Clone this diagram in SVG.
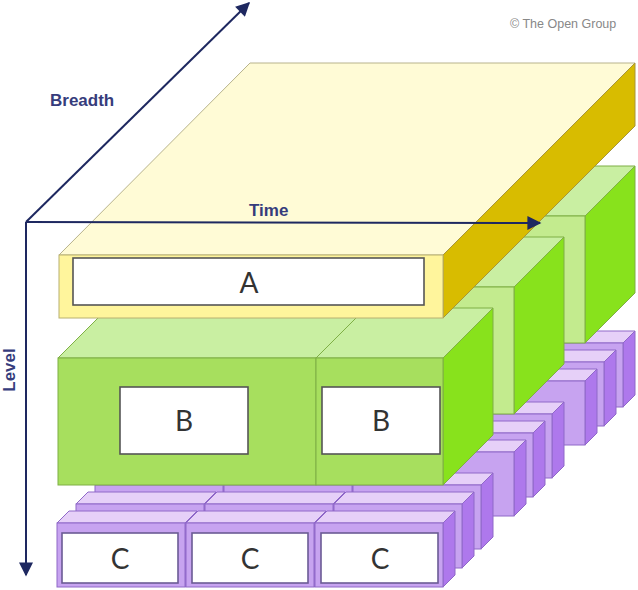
<svg xmlns="http://www.w3.org/2000/svg" width="638" height="590" viewBox="0 0 638 590">
<style>
.ct{fill:#E6D0F8;stroke:#8F68C8;stroke-width:1}
.cs{fill:#AE78EC;stroke:#8F68C8;stroke-width:1}
.cf{stroke:#8F68C8;stroke-width:1}
.bt{fill:#C9EFA2;stroke:#7FAF45;stroke-width:1}
.bs{fill:#88E21C;stroke:#7FAF45;stroke-width:1}
.bf{stroke:#7FAF45;stroke-width:1}
.wb{fill:#FFFFFF;stroke:#555555;stroke-width:1.6}
.wc{fill:#FFFFFF;stroke:#6B5B95;stroke-width:1.6}
.lbl{font-family:Lato,"Liberation Sans",sans-serif;font-size:28px;fill:#333333;text-anchor:middle}
.ax{font-family:"Liberation Sans",Arial,sans-serif;font-size:17px;font-weight:bold;fill:#363C7C}
.arr{stroke:#1E2860;stroke-width:2;fill:none;marker-end:url(#ah)}
</style>
<defs>
<marker id="ah" viewBox="0 0 10 10" refX="9" refY="5" markerWidth="22" markerHeight="14" markerUnits="userSpaceOnUse" orient="auto">
<path d="M0,0 L10,5 L0,10 z" fill="#1E2860"/>
</marker>
<g id="cb">
<polygon class="ct" points="0,0 12,-12 140,-12 128,0"/>
<polygon class="cs" points="128,0 140,-12 140,52 128,64"/>
<rect class="cf" x="0" y="0" width="128" height="64"/>
</g>
<g id="bl">
<polygon class="bt" points="0,0 50,-50 308,-50 258,0"/>
<polygon class="bs" points="258,0 308,-50 308,77 258,127"/>
<rect class="bf" x="0" y="0" width="258" height="127"/>
</g>
<g id="br">
<polygon class="bt" points="0,0 50,-50 177,-50 127,0"/>
<polygon class="bs" points="127,0 177,-50 177,77 127,127"/>
<rect class="bf" x="0" y="0" width="127" height="127"/>
</g>
</defs>
<rect x="0" y="0" width="638" height="590" fill="#FFFFFF"/>

<g id="c-back-rows" fill="#C7A3F0">
<use href="#cb" x="237" y="343"/><use href="#cb" x="366" y="343"/><use href="#cb" x="495" y="343"/>
<use href="#cb" x="218" y="362"/><use href="#cb" x="347" y="362"/><use href="#cb" x="476" y="362"/>
<use href="#cb" x="199" y="381"/><use href="#cb" x="328" y="381"/><use href="#cb" x="457" y="381"/>
<use href="#cb" x="166" y="414"/><use href="#cb" x="295" y="414"/><use href="#cb" x="424" y="414"/>
<use href="#cb" x="147" y="433"/><use href="#cb" x="276" y="433"/><use href="#cb" x="405" y="433"/>
<use href="#cb" x="128" y="452"/><use href="#cb" x="257" y="452"/><use href="#cb" x="386" y="452"/>
<use href="#cb" x="95" y="485"/><use href="#cb" x="224" y="485"/><use href="#cb" x="353" y="485"/>
<use href="#cb" x="76" y="504"/><use href="#cb" x="205" y="504"/><use href="#cb" x="334" y="504"/>
</g>
<g id="node-c1" fill="#C7A3F0">
<use href="#cb" x="57" y="523"/>
<rect class="wc" x="62" y="533" width="116" height="50"/>
<text class="lbl" x="120" y="569">C</text>
</g>
<g id="node-c2" fill="#C7A3F0">
<use href="#cb" x="186" y="523"/>
<rect class="wc" x="192" y="533" width="116" height="50"/>
<text class="lbl" x="250" y="569">C</text>
</g>
<g id="node-c3" fill="#C7A3F0">
<use href="#cb" x="315" y="523"/>
<rect class="wc" x="321" y="533" width="117" height="50"/>
<text class="lbl" x="380" y="569">C</text>
</g>

<g id="b-back-rows" fill="#C3EB8E">
<use href="#bl" x="200" y="216"/><use href="#br" x="458" y="216"/>
<use href="#bl" x="129" y="287"/><use href="#br" x="387" y="287"/>
</g>
<g id="node-b1" fill="#A7DF5E">
<use href="#bl" x="58" y="358"/>
<rect class="wb" x="120" y="387" width="128" height="67"/>
<text class="lbl" x="184" y="431">B</text>
</g>
<g id="node-b2" fill="#A7DF5E">
<use href="#br" x="316" y="358"/>
<rect class="wb" x="322" y="387" width="118" height="67"/>
<text class="lbl" x="381" y="431">B</text>
</g>

<g id="node-a">
<polygon points="59,255 250,63 635,63 443,255" fill="#FFFBD6" stroke="#B8B38C" stroke-width="1"/>
<polygon points="443,255 635,63 635,126 443,318" fill="#D8BC00" stroke="#A8953A" stroke-width="1"/>
<rect x="59" y="255" width="384" height="63" fill="#FFF59C" stroke="#B8B070" stroke-width="1"/>
<rect class="wb" x="73" y="258" width="351" height="47"/>
<text class="lbl" x="249" y="293">A</text>
</g>

<g id="connectors">
<line class="arr" x1="26" y1="222" x2="249" y2="3"/>
<line class="arr" x1="26" y1="222" x2="540" y2="223"/>
<line class="arr" x1="26" y1="222" x2="26" y2="575"/>
</g>

<text class="ax" x="50" y="106">Breadth</text>
<text class="ax" x="249" y="216">Time</text>
<text class="ax" transform="translate(15,370) rotate(-90)" text-anchor="middle">Level</text>
<text x="510" y="28" font-family="'Liberation Sans',Arial,sans-serif" font-size="12.5" fill="#888888">© The Open Group</text>
</svg>
